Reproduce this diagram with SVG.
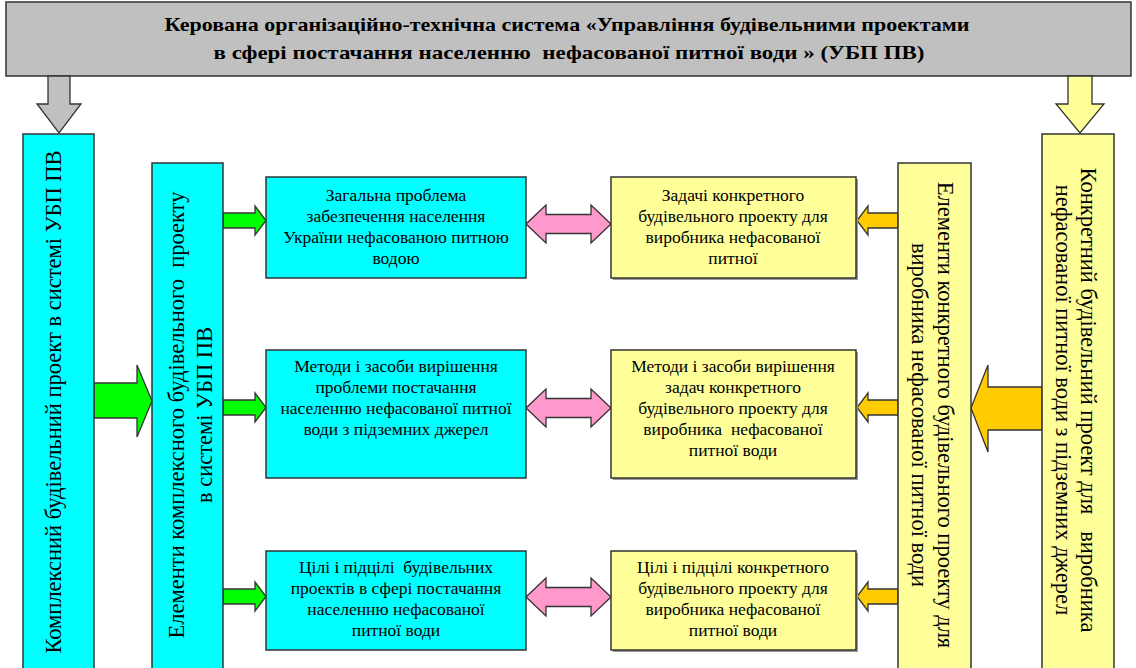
<svg xmlns="http://www.w3.org/2000/svg" width="1136" height="668" viewBox="0 0 1136 668">
<style>
.bx{stroke:#333;stroke-width:1.5}
.cy{fill:#00ffff}
.yl{fill:#ffff99}
.sh{fill:#999}
text{white-space:pre}
.t{font-family:"Liberation Serif","Times New Roman",serif;font-size:17.5px;fill:#000;text-anchor:middle}
.v{font-family:"Liberation Serif","Times New Roman",serif;font-size:22.5px;fill:#000;text-anchor:middle}
.h{font-family:"Liberation Serif","Times New Roman",serif;font-size:19px;font-weight:bold;fill:#000;text-anchor:middle}
.ar{stroke:#333;stroke-width:1.3;stroke-linejoin:miter}
.g{fill:#00ff00}.p{fill:#ff99cc}.o{fill:#ffcc00}.gr{fill:#c0c0c0}.ya{fill:#ffff99}
</style>
<rect width="1136" height="668" fill="#fff"/>
<g id="header">
<rect class="bx gr" x="6" y="2" width="1125" height="74"/>
<text class="h" x="567" y="31" textLength="805" lengthAdjust="spacingAndGlyphs">Керована організаційно-технічна система «Управління будівельними проектами</text>
<text class="h" x="569" y="59" textLength="711" lengthAdjust="spacingAndGlyphs">в сфері постачання населенню  нефасованої питної води » (УБП ПВ)</text>
</g>
<g id="connectors">
<polygon class="ar gr" points="48,76 70,76 70,104 81,104 59,133 37,104 48,104"/>
<polygon class="ar ya" points="1068,76 1092,76 1092,104 1104,104 1080,133 1056,104 1068,104"/>
<polygon class="ar g" points="94,383 137,383 137,365 152,401 137,437 137,418 94,418"/>
<polygon class="ar g" points="223,213 255,213 255,206 266,220.5 255,235 255,228 223,228"/>
<polygon class="ar g" points="223,400 255,400 255,393 266,407.5 255,422 255,415 223,415"/>
<polygon class="ar g" points="223,589 255,589 255,582 266,596.5 255,611 255,604 223,604"/>
<polygon class="ar p" points="526,224 546,205 546,214.5 591,214.5 591,205 611,224 591,243 591,233.5 546,233.5 546,243"/>
<polygon class="ar p" points="526,408 546,389 546,398.5 591,398.5 591,389 611,408 591,427 591,417.5 546,417.5 546,427"/>
<polygon class="ar p" points="526,597 546,578 546,587.5 591,587.5 591,578 611,597 591,616 591,606.5 546,606.5 546,616"/>
<polygon class="ar o" points="898,213 868,213 868,206 857,220.5 868,235 868,228 898,228"/>
<polygon class="ar o" points="898,400 868,400 868,393 857,407.5 868,422 868,415 898,415"/>
<polygon class="ar o" points="898,589 868,589 868,582 857,596.5 868,611 868,604 898,604"/>
<polygon class="ar o" points="1042,387 988,387 988,365 971,408 988,452 988,430 1042,430"/>
</g>
<g id="n-complex">
<rect class="bx cy" x="23" y="134" width="71" height="540"/>
<text class="v" transform="translate(61,402) rotate(-90)">Комплексний будівельний проект в системі УБП ПВ</text>
</g>
<g id="n-elements">
<rect class="bx cy" x="152" y="163" width="71" height="510"/>
<text class="v" transform="translate(184,415) rotate(-90)"><tspan x="0" y="0">Елементи комплексного будівельного  проекту</tspan><tspan x="0" y="28">в системі УБП ПВ</tspan></text>
</g>
<g id="n-problem">
<rect class="bx cy" x="266" y="177" width="260" height="101"/>
<text class="t"><tspan x="396" y="201">Загальна проблема</tspan><tspan x="396" y="222">забезпечення населення</tspan><tspan x="396" y="243">України нефасованою питною</tspan><tspan x="396" y="264">водою</tspan></text>
</g>
<g id="n-methods">
<rect class="bx cy" x="266" y="350" width="260" height="128"/>
<text class="t"><tspan x="396" y="372">Методи і засоби вирішення</tspan><tspan x="396" y="393">проблеми постачання</tspan><tspan x="396" y="414">населенню нефасованої питної</tspan><tspan x="396" y="435">води з підземних джерел</tspan></text>
</g>
<g id="n-goals">
<rect class="bx cy" x="266" y="551" width="260" height="99"/>
<text class="t"><tspan x="396" y="573">Цілі і підцілі  будівельних</tspan><tspan x="396" y="594">проектів в сфері постачання</tspan><tspan x="396" y="615">населенню нефасованої</tspan><tspan x="396" y="636">питної води</tspan></text>
</g>
<g id="n-tasks">
<rect class="sh" x="613" y="179" width="245" height="101"/>
<rect class="bx yl" x="611" y="177" width="245" height="101"/>
<text class="t"><tspan x="733" y="201">Задачі конкретного</tspan><tspan x="733" y="222">будівельного проекту для</tspan><tspan x="733" y="243">виробника нефасованої</tspan><tspan x="733" y="264">питної</tspan></text>
</g>
<g id="n-methods2">
<rect class="sh" x="613" y="352" width="245" height="128"/>
<rect class="bx yl" x="611" y="350" width="245" height="128"/>
<text class="t"><tspan x="733" y="372">Методи і засоби вирішення</tspan><tspan x="733" y="393">задач конкретного</tspan><tspan x="733" y="414">будівельного проекту для</tspan><tspan x="733" y="435">виробника  нефасованої</tspan><tspan x="733" y="456">питної води</tspan></text>
</g>
<g id="n-goals2">
<rect class="sh" x="613" y="553" width="245" height="99"/>
<rect class="bx yl" x="611" y="551" width="245" height="99"/>
<text class="t"><tspan x="733" y="573">Цілі і підцілі конкретного</tspan><tspan x="733" y="594">будівельного проекту для</tspan><tspan x="733" y="615">виробника нефасованої</tspan><tspan x="733" y="636">питної води</tspan></text>
</g>
<g id="n-elements2">
<rect class="bx yl" x="898" y="163" width="73" height="510"/>
<text class="v" transform="translate(938,415) rotate(90)"><tspan x="0" y="0">Елементи конкретного будівельного проекту для</tspan><tspan x="0" y="26">виробника нефасованої питної води</tspan></text>
</g>
<g id="n-concrete">
<rect class="bx yl" x="1042" y="134" width="72" height="540"/>
<text class="v" transform="translate(1081,400) rotate(90)"><tspan x="0" y="0">Конкретний будівельний проект для   виробника</tspan><tspan x="0" y="25">нефасованої питної води з підземних джерел</tspan></text>
</g>
</svg>
